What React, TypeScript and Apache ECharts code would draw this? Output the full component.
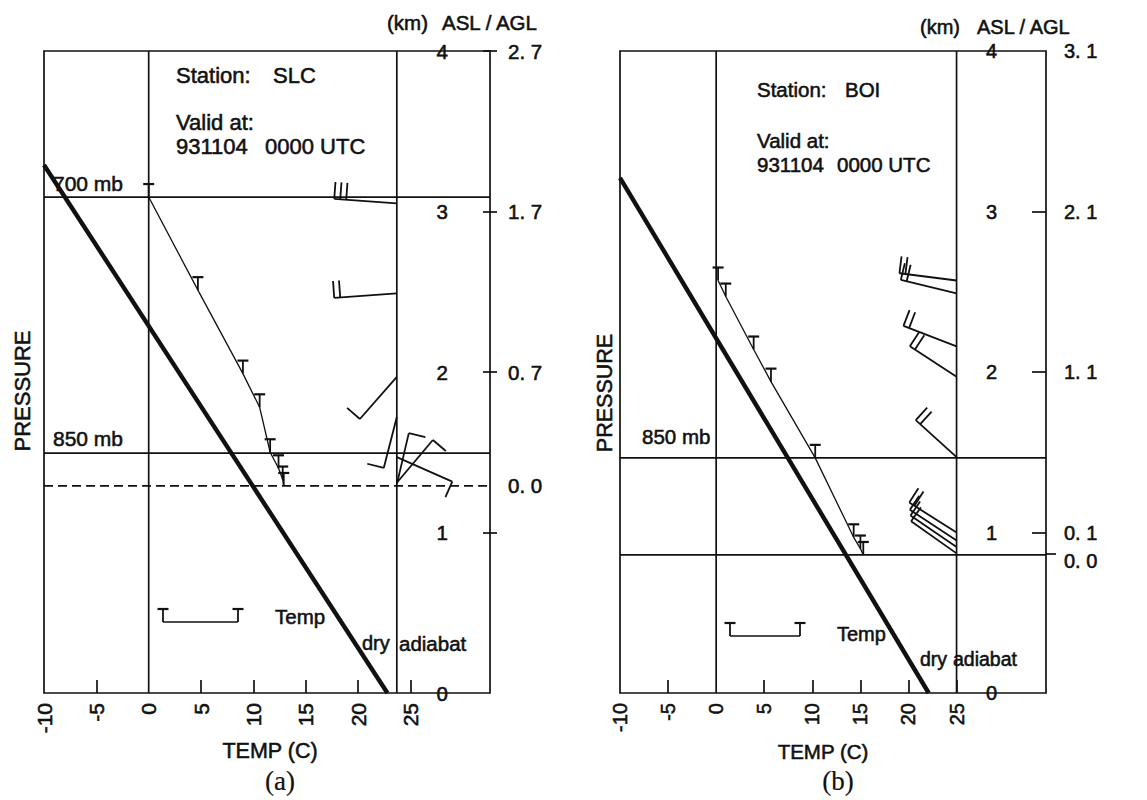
import React, { useEffect, useRef } from "react";
import * as echarts from "echarts";

// ---------- shared axis values ----------
const TEMP_LABELS = [-10, -5, 0, 5, 10, 15, 20, 25];
const TEMP_TICKS = [-5, 5, 10, 15, 20, 25];
const ASL_LABELS = [0, 1, 2, 3, 4];

// ---------- (a) SLC ----------
const SLC_ELEV = 1.29;
const SLC_T = [0, 4.7, 9.0, 10.6, 11.6, 12.4, 12.8, 12.9];
const SLC_Z = [3.09, 2.51, 1.99, 1.78, 1.5, 1.4, 1.33, 1.29];
const SLC_ADIABAT_T = [-10, 22.8];
const SLC_ADIABAT_Z = [3.29, 0];
const SLC_STAFF_T = 23.7;
const SLC_WIND_Z = [3.05, 2.49, 1.97, 1.72, 1.3, 1.31, 1.47];
const SLC_WIND_DIR = [275, 265, 216, 192, 11, 35, 118];
const SLC_WIND_KT = [30, 20, 10, 10, 10, 10, 10];
const SLC_LEVEL_NAMES = ["700 mb", "850 mb"];
const SLC_LEVEL_Z = [3.09, 1.495];

// ---------- (b) BOI ----------
const BOI_ELEV = 0.87;
const BOI_T = [0.2, 1.0, 3.9, 5.7, 10.3, 14.3, 15.0, 15.3];
const BOI_Z = [2.57, 2.47, 2.14, 1.94, 1.465, 0.97, 0.9, 0.86];
const BOI_ADIABAT_T = [-10, 22.1];
const BOI_ADIABAT_Z = [3.21, 0];
const BOI_STAFF_T = 25;
const BOI_WIND_Z = [2.57, 2.49, 2.16, 1.97, 1.47, 1.0, 0.95, 0.91, 0.87];
const BOI_WIND_DIR = [278, 285, 293, 306, 315, 305, 306, 307, 308];
const BOI_WIND_KT = [20, 20, 20, 20, 20, 20, 10, 10, 10];
const BOI_LEVEL_NAMES = ["850 mb"];
const BOI_LEVEL_Z = [1.465];

// staff length in data units
const STAFF_DT = 6.0;
const STAFF_DZ = 0.325;

const FONT = "'Liberation Sans', Arial, Helvetica, sans-serif";
const INK = "#111";
const TEXT_STROKE = 0.55;

function lineSeries(xi: number, yi: number, pts: number[][], width: number, type: any = "solid") {
  return {
    type: "line",
    xAxisIndex: xi,
    yAxisIndex: yi,
    data: pts,
    symbol: "none",
    showSymbol: false,
    silent: true,
    clip: false,
    lineStyle: { color: INK, width, type },
    z: 3,
  };
}

function tMarkerSeries(xi: number, yi: number, T: number[], Z: number[]) {
  return {
    type: "custom",
    xAxisIndex: xi,
    yAxisIndex: yi,
    clip: false,
    silent: true,
    z: 4,
    data: T.map((t, i) => [t, Z[i]]),
    encode: { x: 0, y: 1 },
    renderItem: (_p: any, api: any) => {
      const p = api.coord([api.value(0), api.value(1)]);
      return {
        type: "group",
        children: [
          { type: "line", shape: { x1: p[0], y1: p[1] - 13, x2: p[0], y2: p[1] }, style: { stroke: INK, lineWidth: 1.8 } },
          { type: "line", shape: { x1: p[0] - 5.5, y1: p[1] - 13, x2: p[0] + 5.5, y2: p[1] - 13 }, style: { stroke: INK, lineWidth: 2.2 } },
        ],
      };
    },
  };
}

function windSeries(xi: number, yi: number, staffT: number, Z: number[], DIR: number[], KT: number[]) {
  return {
    type: "custom",
    xAxisIndex: xi,
    yAxisIndex: yi,
    clip: false,
    silent: true,
    z: 4,
    data: Z.map((z, i) => [staffT, z, DIR[i], KT[i]]),
    encode: { x: 0, y: 1 },
    renderItem: (_p: any, api: any) => {
      const t0 = api.value(0);
      const z0 = api.value(1);
      const d = (api.value(2) * Math.PI) / 180;
      const kt = api.value(3);
      const b = api.coord([t0, z0]);
      const e = api.coord([t0 + STAFF_DT * Math.sin(d), z0 + STAFF_DZ * Math.cos(d)]);
      const L = Math.hypot(e[0] - b[0], e[1] - b[1]);
      const hx = (e[0] - b[0]) / L;
      const hy = (e[1] - b[1]) / L;
      const px = -hy;
      const py = hx;
      const st = { stroke: INK, lineWidth: 1.8 };
      const children: any[] = [{ type: "line", shape: { x1: b[0], y1: b[1], x2: e[0], y2: e[1] }, style: st }];
      const n = Math.floor(kt / 10);
      for (let i = 0; i < n; i++) {
        const sx = e[0] - hx * i * 6;
        const sy = e[1] - hy * i * 6;
        children.push({ type: "line", shape: { x1: sx, y1: sy, x2: sx + px * 17, y2: sy + py * 17 }, style: st });
      }
      if (kt % 10 >= 5) {
        const sx = e[0] - hx * n * 6;
        const sy = e[1] - hy * n * 6;
        children.push({ type: "line", shape: { x1: sx, y1: sy, x2: sx + px * 9, y2: sy + py * 9 }, style: st });
      }
      return { type: "group", children };
    },
  };
}

const labelInk = { color: INK, fontFamily: FONT, textBorderColor: INK, textBorderWidth: TEXT_STROKE };

function xAxisFor(gridIndex: number, min: number, max: number, fs: number) {
  return {
    gridIndex,
    type: "value",
    min,
    max,
    position: "bottom",
    axisLine: { show: false, onZero: false },
    splitLine: { show: false },
    axisTick: { show: true, inside: true, length: 13, customValues: TEMP_TICKS, lineStyle: { color: INK, width: 1.7 } },
    axisLabel: {
      show: true,
      rotate: 90,
      margin: 10,
      fontSize: fs,
      ...labelInk,
      customValues: TEMP_LABELS,
      formatter: (v: number) => String(v),
    },
  };
}

function aslAxis(gridIndex: number, margin: number, ticks: number[], tickLen: number, fs: number) {
  return {
    gridIndex,
    type: "value",
    min: 0,
    max: 4,
    position: "right",
    axisLine: { show: false, onZero: false },
    splitLine: { show: false },
    axisTick: { show: true, inside: true, length: tickLen, customValues: ticks, lineStyle: { color: INK, width: 1.7 } },
    axisLabel: {
      show: true,
      inside: true,
      margin,
      fontSize: fs,
      ...labelInk,
      customValues: ASL_LABELS,
      showMinLabel: true,
      showMaxLabel: true,
      formatter: (v: number) => String(Math.round(v)),
    },
  };
}

function fmtAgl(v: number) {
  return Math.abs(v).toFixed(1).replace(".", ". ");
}

function aglAxis(gridIndex: number, elev: number, tickVals: number[], tickLen: number, fs: number, lowZero: boolean) {
  const labels = ASL_LABELS.map((a) => a - elev).filter((v) => v >= 0);
  labels.push(0);
  return {
    gridIndex,
    type: "value",
    min: -elev,
    max: 4 - elev,
    position: "right",
    offset: 0,
    axisLine: { show: false, onZero: false },
    splitLine: { show: false },
    axisTick: { show: tickVals.length > 0, inside: false, length: tickLen, customValues: tickVals, lineStyle: { color: INK, width: 1.7 } },
    axisLabel: {
      show: true,
      margin: 18,
      fontSize: fs,
      ...labelInk,
      customValues: labels,
      showMinLabel: true,
      showMaxLabel: true,
      formatter: (v: number) => (lowZero && Math.abs(v) < 1e-6 ? "{low|" + fmtAgl(v) + "}" : fmtAgl(v)),
      rich: { low: { fontSize: fs, ...labelInk, padding: [16, 0, 0, 0] } },
    },
  };
}

function txt(text: string, x: number, y: number, fs: number, extra: any = {}) {
  const { style: extraStyle, ...rest } = extra;
  return {
    type: "text",
    x,
    y,
    silent: true,
    z: 10,
    ...rest,
    style: {
      text,
      fontSize: fs,
      fontFamily: FONT,
      fill: INK,
      stroke: INK,
      lineWidth: TEXT_STROKE,
      align: "left",
      verticalAlign: "middle",
      ...(extraStyle || {}),
    },
  };
}

function legendT(x: number, y: number) {
  return [
    { type: "line", shape: { x1: x, y1: y - 13, x2: x, y2: y }, style: { stroke: INK, lineWidth: 1.8 }, z: 10 },
    { type: "line", shape: { x1: x - 5.5, y1: y - 13, x2: x + 5.5, y2: y - 13 }, style: { stroke: INK, lineWidth: 2.2 }, z: 10 },
  ];
}

export default function App() {
  const ref = useRef<HTMLDivElement>(null);

  useEffect(() => {
    if (!ref.current) return;
    const chart = echarts.init(ref.current, undefined, { renderer: "svg" });

    const A = { xi: 0, yi: 0, min: -10, max: 32.6 };
    const B = { xi: 1, yi: 2, min: -10, max: 34.3 };

    const series: any[] = [];
    // panel (a)
    SLC_LEVEL_Z.forEach((z) => series.push(lineSeries(A.xi, A.yi, [[A.min, z], [A.max, z]], 1.7)));
    series.push(lineSeries(A.xi, A.yi, [[A.min, SLC_ELEV], [A.max, SLC_ELEV]], 1.7, [9, 5]));
    series.push(lineSeries(A.xi, A.yi, [[0, 0], [0, 4]], 1.7));
    series.push(lineSeries(A.xi, A.yi, [[SLC_STAFF_T, 0], [SLC_STAFF_T, 4]], 1.7));
    series.push(lineSeries(A.xi, A.yi, SLC_ADIABAT_T.map((t, i) => [t, SLC_ADIABAT_Z[i]]), 4.4));
    series.push(lineSeries(A.xi, A.yi, SLC_T.map((t, i) => [t, SLC_Z[i]]), 1.3));
    series.push(tMarkerSeries(A.xi, A.yi, SLC_T, SLC_Z));
    series.push(windSeries(A.xi, A.yi, SLC_STAFF_T, SLC_WIND_Z, SLC_WIND_DIR, SLC_WIND_KT));
    // panel (b)
    BOI_LEVEL_Z.forEach((z) => series.push(lineSeries(B.xi, B.yi, [[B.min, z], [B.max, z]], 1.7)));
    series.push(lineSeries(B.xi, B.yi, [[B.min, BOI_ELEV - 0.01], [B.max, BOI_ELEV - 0.01]], 1.7));
    series.push(lineSeries(B.xi, B.yi, [[0, 0], [0, 4]], 1.7));
    series.push(lineSeries(B.xi, B.yi, [[BOI_STAFF_T, 0], [BOI_STAFF_T, 4]], 1.7));
    series.push(lineSeries(B.xi, B.yi, BOI_ADIABAT_T.map((t, i) => [t, BOI_ADIABAT_Z[i]]), 4.4));
    series.push(lineSeries(B.xi, B.yi, BOI_T.map((t, i) => [t, BOI_Z[i]]), 1.3));
    series.push(tMarkerSeries(B.xi, B.yi, BOI_T, BOI_Z));
    series.push(windSeries(B.xi, B.yi, BOI_STAFF_T, BOI_WIND_Z, BOI_WIND_DIR, BOI_WIND_KT));

    const serif = "'Liberation Serif', 'DejaVu Serif', serif";
    const graphic: any[] = [
      // panel (a) annotations
      txt("(km)", 387, 22, 20.5),
      txt("ASL / AGL", 442, 22, 20.5),
      txt("Station:", 176, 75, 22),
      txt("SLC", 273, 75, 22),
      txt("Valid at:", 176, 122, 22),
      txt("931104", 176, 146, 22),
      txt("0000 UTC", 265, 146, 22),
      txt(SLC_LEVEL_NAMES[0], 53, 183, 21),
      txt(SLC_LEVEL_NAMES[1], 53, 438, 21),
      txt("PRESSURE", 22, 391, 22, { rotation: Math.PI / 2, style: { align: "center" } }),
      txt("TEMP (C)", 270, 751, 21.5, { style: { align: "center" } }),
      txt("(a)", 280, 781, 27, { style: { align: "center", fontFamily: serif, lineWidth: 0.2 } }),
      { type: "line", shape: { x1: 163, y1: 622, x2: 238, y2: 622 }, style: { stroke: INK, lineWidth: 1.3 }, z: 10 },
      ...legendT(163, 622),
      ...legendT(238, 622),
      txt("Temp", 275, 616, 20.5),
      txt("dry", 362, 643, 20),
      txt("adiabat", 399, 643, 20.5),
      // panel (b) annotations
      txt("(km)", 920, 27, 20),
      txt("ASL / AGL", 977, 27, 20),
      txt("Station:", 757, 89, 20.5),
      txt("BOI", 845, 89, 20.5),
      txt("Valid at:", 757, 140, 20.5),
      txt("931104", 757, 164, 20.5),
      txt("0000 UTC", 837, 164, 20.5),
      txt(BOI_LEVEL_NAMES[0], 642, 436, 20.5),
      txt("PRESSURE", 605, 393, 21.5, { rotation: Math.PI / 2, style: { align: "center" } }),
      txt("TEMP (C)", 823, 751, 20.5, { style: { align: "center" } }),
      txt("(b)", 838, 781, 27, { style: { align: "center", fontFamily: serif, lineWidth: 0.2 } }),
      { type: "line", shape: { x1: 730, y1: 636, x2: 800, y2: 636 }, style: { stroke: INK, lineWidth: 1.3 }, z: 10 },
      ...legendT(730, 636),
      ...legendT(800, 636),
      txt("Temp", 837, 634, 20),
      txt("dry", 920, 659, 19.5),
      txt("adiabat", 953, 659, 19.5),
    ];

    chart.setOption({
      animation: false,
      backgroundColor: "#fff",
      grid: [
        { left: 44, top: 51, width: 446, height: 642, show: true, borderColor: INK, borderWidth: 1.7, backgroundColor: "transparent", containLabel: false },
        { left: 620, top: 51, width: 426, height: 642, show: true, borderColor: INK, borderWidth: 1.7, backgroundColor: "transparent", containLabel: false },
      ],
      xAxis: [xAxisFor(0, A.min, A.max, 21), xAxisFor(1, B.min, B.max, 20)],
      yAxis: [
        aslAxis(0, 42, [1, 2, 3, 4], 7, 20.5),
        aglAxis(0, SLC_ELEV, [4 - SLC_ELEV, 3 - SLC_ELEV, 2 - SLC_ELEV, 1 - SLC_ELEV], 7, 20.5, false),
        aslAxis(1, 49, [1, 2, 3], 14, 20),
        aglAxis(1, BOI_ELEV, [0], 10, 20, true),
      ],
      series,
      graphic,
    });

    return () => chart.dispose();
  }, []);

  return (
    <div
      ref={ref}
      style={{ position: "absolute", left: 0, top: 0, width: 1147, height: 800, background: "#fff" }}
    />
  );
}
